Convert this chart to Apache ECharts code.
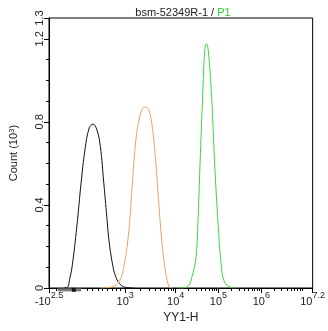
<!DOCTYPE html>
<html>
<head>
<meta charset="utf-8">
<script src="https://cdn.jsdelivr.net/npm/echarts@6/dist/echarts.min.js"></script>
<style>
  html, body { margin: 0; padding: 0; background: #fff; }
  #chart { width: 328px; height: 331px; }
</style>
</head>
<body>
<div id="chart"></div>
<script>
// x is in display units of the biexponential axis (1 unit = one decade above 10^4)
const xTickPos = [1.04, 2.82, 4, 5, 6, 7.2];
const xTickLabels = [['-10', '2.5'], ['10', '3'], ['10', '4'], ['10', '5'], ['10', '6'], ['10', '7.2']];
const xLinearTicks = [1.2, 1.34, 1.77, 1.93, 2.06, 2.18, 2.29, 2.41, 2.52, 2.61, 2.7];

const yMajor = [0, 0.4, 0.8, 1.2, 1.3];
const yMinor = [0.1, 0.2, 0.3, 0.5, 0.6, 0.7, 0.9, 1.0, 1.1];

// Count (10^3) per channel
const isotype = [
  [1.38, 0], [1.47, 0.003], [1.52, 0.04], [1.58, 0.103], [1.69, 0.295], [1.79, 0.506],
  [1.88, 0.665], [1.98, 0.771], [2.07, 0.789], [2.16, 0.761], [2.24, 0.681], [2.32, 0.506],
  [2.39, 0.344], [2.44, 0.231], [2.52, 0.12], [2.6, 0.054], [2.72, 0.014], [2.86, 0.002], [3.02, 0]
];
const lowLevel = [
  [2.22, 0], [2.53, 0.006], [2.68, 0.031], [2.79, 0.103], [2.9, 0.265], [2.99, 0.506],
  [3.07, 0.713], [3.16, 0.826], [3.23, 0.866], [3.29, 0.871], [3.37, 0.858], [3.45, 0.78],
  [3.53, 0.617], [3.61, 0.392], [3.69, 0.199], [3.77, 0.07], [3.85, 0.006], [3.93, 0]
];
const sample = [
  [4.04, 0], [4.16, 0], [4.31, 0.014], [4.38, 0.054], [4.46, 0.125], [4.5, 0.217],
  [4.57, 0.602], [4.63, 0.922], [4.68, 1.147], [4.72, 1.176], [4.76, 1.147], [4.84, 0.922],
  [4.91, 0.602], [4.99, 0.313], [5.06, 0.12], [5.14, 0.03], [5.29, 0.003], [5.4, 0]
];
const gateBar = [[1.245, -0.009], [1.79, -0.009]];
const gateMark = [[1.62, -0.009]];

const xMinor = xLinearTicks.slice();
for (let k = 2; k <= 9; k++) xMinor.push(2.82 + 1.18 * Math.log10(k));
for (let d = 4; d < 7; d++) {
  for (let k = 2; k <= 9; k++) xMinor.push(d + Math.log10(k));
}

const txt = '#222';
const font = 'Liberation Sans, Arial, sans-serif';

const chart = echarts.init(document.getElementById('chart'), null, { renderer: 'canvas' });

const xBase = { type: 'value', min: 1.04, max: 7.2, position: 'bottom', splitLine: { show: false } };
const yBase = { type: 'value', min: 0, max: 1.3, position: 'left', splitLine: { show: false } };

chart.setOption({
  animation: false,
  backgroundColor: '#fff',
  title: {
    text: 'bsm-52349R-1 / {g|P1}',
    left: 178, top: 2, textAlign: 'center',
    textStyle: {
      fontFamily: font, fontSize: 11, fontWeight: 'normal', color: txt,
      rich: { g: { fontFamily: font, fontSize: 11, color: '#33cc33' } }
    }
  },
  grid: { left: 43, right: 14, top: 18, bottom: 43, show: true, borderColor: '#000', borderWidth: 1, backgroundColor: 'transparent' },
  xAxis: [
    Object.assign({}, xBase, {
      name: 'YY1-H', nameLocation: 'middle', nameGap: 18,
      nameTextStyle: { fontFamily: font, fontSize: 12, color: txt },
      axisLine: { show: true, lineStyle: { color: '#000', width: 1 } },
      axisTick: { show: true, length: 5, customValues: xTickPos, lineStyle: { color: '#000' } },
      axisLabel: {
        show: true, margin: 3, customValues: xTickPos,
        formatter: function (v) {
          let i = xTickPos.findIndex(p => Math.abs(p - v) < 1e-6);
          if (i < 0) return '';
          return '{b|' + xTickLabels[i][0] + '}{s|' + xTickLabels[i][1] + '}';
        },
        rich: {
          b: { fontFamily: font, fontSize: 11, color: txt, lineHeight: 16, verticalAlign: 'bottom' },
          s: { fontFamily: font, fontSize: 9, color: txt, lineHeight: 16, verticalAlign: 'top' }
        }
      }
    }),
    Object.assign({}, xBase, {
      axisLine: { show: false },
      axisTick: { show: true, length: 3, customValues: xMinor, lineStyle: { color: '#000' } },
      axisLabel: { show: false }
    })
  ],
  yAxis: [
    Object.assign({}, yBase, {
      name: 'Count (10{s|3})', nameLocation: 'middle', nameGap: 30, nameRotate: 90,
      nameTextStyle: {
        fontFamily: font, fontSize: 11, color: txt,
        rich: { s: { fontFamily: font, fontSize: 8, color: txt, verticalAlign: 'top' } }
      },
      axisLine: { show: true, lineStyle: { color: '#000', width: 1 } },
      axisTick: { show: true, length: 5, customValues: yMajor, lineStyle: { color: '#000' } },
      axisLabel: {
        show: true, rotate: 90, margin: 4, customValues: yMajor,
        fontFamily: font, fontSize: 11, color: txt,
        formatter: v => (Math.abs(v) < 1e-9 ? '0' : String(+v.toFixed(1)))
      }
    }),
    Object.assign({}, yBase, {
      axisLine: { show: false },
      axisTick: { show: true, length: 3, customValues: yMinor, lineStyle: { color: '#000' } },
      axisLabel: { show: false }
    })
  ],
  series: [
    { type: 'line', data: isotype, smooth: 0.4, symbol: 'none', lineStyle: { color: '#111', width: 1 } },
    { type: 'line', data: lowLevel, smooth: 0.4, symbol: 'none', lineStyle: { color: '#e8a264', width: 1 } },
    { type: 'line', data: sample, smooth: 0.4, symbol: 'none', lineStyle: { color: '#3ad83a', width: 1 } },
    { type: 'line', data: gateBar, symbol: 'none', clip: false, lineStyle: { color: '#777', width: 3 }, z: 5 },
    { type: 'scatter', data: gateMark, symbol: 'rect', symbolSize: 4, clip: false, itemStyle: { color: '#000' }, z: 6 }
  ]
});
</script>
</body>
</html>
